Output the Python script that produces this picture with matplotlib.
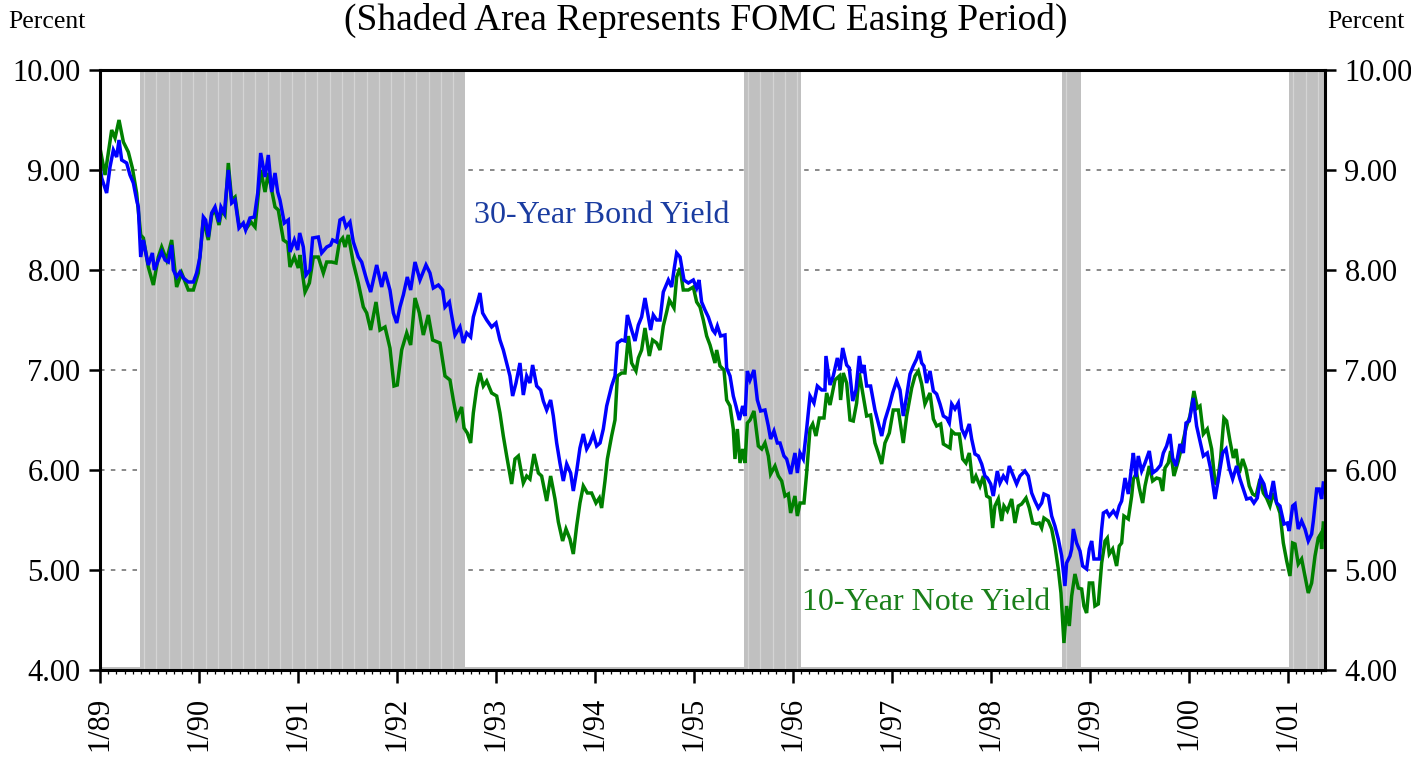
import matplotlib
matplotlib.use("Agg")
import matplotlib.pyplot as plt
import numpy as np
from matplotlib.ticker import FixedLocator

plt.rcParams["font.family"] = ["Liberation Serif", "DejaVu Serif"]

# weekly-ish readings: (decimal year, percent)
BOND30 = [
    (1989.000, 9.03), (1989.017, 8.92), (1989.067, 8.77), (1989.101, 9.03), (1989.135, 9.20),
    (1989.168, 9.13), (1989.192, 9.30), (1989.219, 9.10), (1989.269, 9.07), (1989.303, 8.95),
    (1989.337, 8.87), (1989.370, 8.70), (1989.387, 8.63), (1989.411, 8.13), (1989.438, 8.30),
    (1989.471, 8.13), (1989.488, 8.05), (1989.529, 8.17), (1989.549, 8.00), (1989.589, 8.10),
    (1989.623, 8.18), (1989.657, 8.10), (1989.690, 8.08), (1989.724, 8.25), (1989.741, 8.00),
    (1989.774, 7.93), (1989.808, 7.98), (1989.842, 7.92), (1989.892, 7.88), (1989.943, 7.88),
    (1989.976, 7.97), (1990.010, 8.13), (1990.044, 8.53), (1990.067, 8.50), (1990.094, 8.33),
    (1990.128, 8.57), (1990.162, 8.63), (1990.202, 8.48), (1990.222, 8.63), (1990.256, 8.57),
    (1990.296, 9.00), (1990.330, 8.67), (1990.364, 8.70), (1990.404, 8.42), (1990.448, 8.47),
    (1990.471, 8.40), (1990.515, 8.52), (1990.559, 8.53), (1990.593, 8.77), (1990.623, 9.17),
    (1990.667, 8.93), (1990.700, 9.15), (1990.734, 8.78), (1990.768, 8.97), (1990.795, 8.78),
    (1990.818, 8.70), (1990.862, 8.47), (1990.902, 8.50), (1990.919, 8.18), (1990.963, 8.30),
    (1990.997, 8.20), (1991.017, 8.37), (1991.054, 8.23), (1991.081, 7.95), (1991.121, 8.00),
    (1991.148, 8.32), (1991.205, 8.33), (1991.239, 8.17), (1991.290, 8.23), (1991.330, 8.25),
    (1991.350, 8.30), (1991.391, 8.28), (1991.424, 8.50), (1991.458, 8.52), (1991.485, 8.43),
    (1991.525, 8.48), (1991.559, 8.28), (1991.609, 8.13), (1991.643, 8.08), (1991.694, 7.90),
    (1991.734, 7.78), (1991.795, 8.05), (1991.845, 7.83), (1991.879, 7.98), (1991.929, 7.80),
    (1991.963, 7.57), (1991.997, 7.47), (1992.030, 7.63), (1992.064, 7.75), (1992.104, 7.93),
    (1992.138, 7.80), (1992.182, 8.08), (1992.232, 7.90), (1992.293, 8.05), (1992.333, 7.97),
    (1992.367, 7.82), (1992.418, 7.85), (1992.461, 7.80), (1992.485, 7.63), (1992.529, 7.68),
    (1992.586, 7.35), (1992.636, 7.43), (1992.670, 7.27), (1992.704, 7.37), (1992.744, 7.33),
    (1992.771, 7.53), (1992.811, 7.67), (1992.838, 7.77), (1992.865, 7.57), (1992.906, 7.50),
    (1992.956, 7.43), (1993.000, 7.47), (1993.040, 7.30), (1993.074, 7.20), (1993.108, 7.07),
    (1993.141, 6.94), (1993.168, 6.74), (1993.202, 6.87), (1993.242, 7.07), (1993.276, 6.75),
    (1993.310, 6.94), (1993.343, 6.87), (1993.370, 7.05), (1993.411, 6.84), (1993.451, 6.80),
    (1993.478, 6.69), (1993.512, 6.60), (1993.552, 6.70), (1993.579, 6.54), (1993.613, 6.27),
    (1993.646, 6.07), (1993.680, 5.89), (1993.714, 6.06), (1993.754, 5.97), (1993.781, 5.79),
    (1993.815, 5.99), (1993.848, 6.22), (1993.882, 6.36), (1993.916, 6.21), (1993.950, 6.27),
    (1993.983, 6.36), (1994.017, 6.24), (1994.051, 6.27), (1994.084, 6.41), (1994.118, 6.64),
    (1994.168, 6.84), (1994.202, 6.94), (1994.226, 7.27), (1994.269, 7.30), (1994.303, 7.29),
    (1994.327, 7.55), (1994.370, 7.40), (1994.404, 7.29), (1994.438, 7.45), (1994.471, 7.53),
    (1994.505, 7.72), (1994.539, 7.53), (1994.562, 7.40), (1994.589, 7.55), (1994.623, 7.50),
    (1994.657, 7.50), (1994.690, 7.78), (1994.741, 7.90), (1994.774, 7.83), (1994.798, 8.00),
    (1994.825, 8.17), (1994.859, 8.13), (1994.899, 7.90), (1994.943, 7.87), (1994.993, 7.90),
    (1995.027, 7.82), (1995.051, 7.90), (1995.077, 7.68), (1995.111, 7.60), (1995.145, 7.53),
    (1995.189, 7.40), (1995.212, 7.37), (1995.236, 7.44), (1995.269, 7.34), (1995.313, 7.35),
    (1995.330, 7.02), (1995.364, 6.94), (1995.397, 6.74), (1995.424, 6.64), (1995.458, 6.50),
    (1995.492, 6.64), (1995.515, 6.54), (1995.539, 6.99), (1995.566, 6.90), (1995.606, 7.00),
    (1995.640, 6.70), (1995.673, 6.59), (1995.717, 6.60), (1995.751, 6.44), (1995.774, 6.31),
    (1995.808, 6.39), (1995.842, 6.27), (1995.869, 6.27), (1995.909, 6.14), (1995.936, 6.11),
    (1995.976, 5.96), (1996.020, 6.17), (1996.044, 5.97), (1996.071, 6.17), (1996.104, 6.11),
    (1996.138, 6.41), (1996.172, 6.74), (1996.212, 6.67), (1996.246, 6.84), (1996.290, 6.80),
    (1996.323, 6.80), (1996.333, 7.14), (1996.374, 6.85), (1996.407, 6.94), (1996.448, 7.12),
    (1996.475, 7.00), (1996.502, 7.22), (1996.542, 7.05), (1996.569, 7.02), (1996.603, 6.69),
    (1996.636, 6.80), (1996.670, 7.14), (1996.694, 6.97), (1996.717, 7.05), (1996.744, 6.84),
    (1996.784, 6.84), (1996.828, 6.60), (1996.862, 6.47), (1996.896, 6.34), (1996.929, 6.50),
    (1996.973, 6.64), (1997.007, 6.77), (1997.047, 6.89), (1997.081, 6.80), (1997.114, 6.54),
    (1997.148, 6.74), (1997.182, 6.96), (1997.215, 7.04), (1997.249, 7.11), (1997.276, 7.19),
    (1997.300, 7.07), (1997.323, 7.04), (1997.350, 6.87), (1997.384, 6.99), (1997.418, 6.79),
    (1997.451, 6.76), (1997.485, 6.66), (1997.519, 6.54), (1997.552, 6.52), (1997.579, 6.47),
    (1997.603, 6.66), (1997.636, 6.61), (1997.670, 6.67), (1997.704, 6.41), (1997.737, 6.34),
    (1997.781, 6.46), (1997.805, 6.31), (1997.838, 6.16), (1997.872, 6.14), (1997.906, 6.06),
    (1997.939, 5.94), (1997.963, 5.92), (1997.997, 5.86), (1998.023, 5.74), (1998.064, 5.99),
    (1998.091, 5.87), (1998.125, 5.94), (1998.158, 5.89), (1998.185, 6.04), (1998.226, 5.94),
    (1998.259, 5.86), (1998.293, 5.94), (1998.343, 5.99), (1998.377, 5.94), (1998.411, 5.77),
    (1998.444, 5.69), (1998.478, 5.62), (1998.512, 5.67), (1998.535, 5.76), (1998.579, 5.74),
    (1998.613, 5.54), (1998.646, 5.44), (1998.680, 5.31), (1998.714, 5.14), (1998.747, 4.84),
    (1998.764, 5.07), (1998.798, 5.14), (1998.815, 5.21), (1998.832, 5.41), (1998.865, 5.27),
    (1998.899, 5.19), (1998.926, 5.04), (1998.966, 5.01), (1998.993, 5.21), (1999.017, 5.29),
    (1999.040, 5.11), (1999.094, 5.11), (1999.118, 5.41), (1999.135, 5.57), (1999.168, 5.59),
    (1999.195, 5.54), (1999.236, 5.59), (1999.269, 5.54), (1999.296, 5.64), (1999.320, 5.69),
    (1999.354, 5.92), (1999.387, 5.76), (1999.421, 6.04), (1999.438, 6.17), (1999.465, 5.93),
    (1999.488, 6.14), (1999.522, 5.99), (1999.556, 6.07), (1999.599, 6.19), (1999.633, 5.97),
    (1999.673, 6.00), (1999.714, 6.05), (1999.741, 6.17), (1999.774, 6.24), (1999.808, 6.36),
    (1999.835, 6.12), (1999.869, 6.04), (1999.909, 6.26), (1999.943, 6.17), (1999.970, 6.47),
    (2000.003, 6.49), (2000.044, 6.72), (2000.077, 6.44), (2000.111, 6.29), (2000.145, 6.14),
    (2000.185, 6.17), (2000.219, 6.01), (2000.263, 5.71), (2000.296, 5.91), (2000.340, 6.17),
    (2000.374, 6.21), (2000.407, 6.02), (2000.441, 5.91), (2000.481, 6.04), (2000.515, 5.91),
    (2000.549, 5.81), (2000.582, 5.71), (2000.623, 5.72), (2000.656, 5.67), (2000.690, 5.72),
    (2000.724, 5.92), (2000.757, 5.86), (2000.784, 5.74), (2000.818, 5.72), (2000.852, 5.89),
    (2000.885, 5.67), (2000.919, 5.64), (2000.960, 5.46), (2000.993, 5.47), (2001.013, 5.39),
    (2001.047, 5.64), (2001.071, 5.66), (2001.104, 5.41), (2001.138, 5.49), (2001.172, 5.41),
    (2001.205, 5.29), (2001.239, 5.36), (2001.256, 5.49), (2001.290, 5.81), (2001.316, 5.81),
    (2001.340, 5.71), (2001.357, 5.87),
]

NOTE10 = [
    (1989.000, 9.22), (1989.051, 8.95), (1989.084, 9.17), (1989.118, 9.40), (1989.152, 9.32),
    (1989.192, 9.50), (1989.236, 9.28), (1989.286, 9.18), (1989.327, 9.02), (1989.370, 8.77),
    (1989.411, 8.35), (1989.438, 8.32), (1989.488, 8.03), (1989.539, 7.85), (1989.589, 8.13),
    (1989.623, 8.23), (1989.673, 8.10), (1989.724, 8.30), (1989.774, 7.83), (1989.825, 7.97),
    (1989.892, 7.80), (1989.943, 7.80), (1989.993, 7.97), (1990.044, 8.50), (1990.094, 8.30),
    (1990.128, 8.55), (1990.162, 8.60), (1990.202, 8.45), (1990.229, 8.60), (1990.262, 8.55),
    (1990.296, 9.07), (1990.330, 8.70), (1990.364, 8.73), (1990.404, 8.45), (1990.448, 8.45),
    (1990.481, 8.42), (1990.525, 8.48), (1990.566, 8.43), (1990.623, 9.00), (1990.667, 8.78),
    (1990.700, 8.97), (1990.768, 8.63), (1990.801, 8.60), (1990.852, 8.30), (1990.896, 8.27),
    (1990.919, 8.03), (1990.963, 8.13), (1991.003, 8.02), (1991.020, 8.15), (1991.071, 7.78),
    (1991.115, 7.87), (1991.155, 8.13), (1991.205, 8.13), (1991.256, 7.97), (1991.290, 8.08),
    (1991.340, 8.08), (1991.384, 8.07), (1991.418, 8.28), (1991.451, 8.32), (1991.475, 8.23),
    (1991.508, 8.35), (1991.559, 8.07), (1991.609, 7.87), (1991.660, 7.63), (1991.694, 7.57),
    (1991.734, 7.40), (1991.788, 7.68), (1991.828, 7.40), (1991.879, 7.43), (1991.929, 7.22),
    (1991.970, 6.84), (1992.003, 6.85), (1992.047, 7.20), (1992.098, 7.37), (1992.138, 7.25),
    (1992.182, 7.72), (1992.226, 7.57), (1992.266, 7.35), (1992.316, 7.55), (1992.360, 7.30),
    (1992.434, 7.27), (1992.485, 6.94), (1992.535, 6.90), (1992.569, 6.70), (1992.603, 6.52),
    (1992.653, 6.63), (1992.677, 6.42), (1992.710, 6.37), (1992.744, 6.27), (1992.771, 6.57),
    (1992.805, 6.82), (1992.838, 6.97), (1992.872, 6.84), (1992.906, 6.89), (1992.956, 6.77),
    (1993.007, 6.74), (1993.040, 6.57), (1993.074, 6.34), (1993.108, 6.14), (1993.158, 5.86),
    (1993.192, 6.11), (1993.226, 6.14), (1993.276, 5.87), (1993.310, 5.94), (1993.343, 5.91),
    (1993.384, 6.16), (1993.428, 5.97), (1993.461, 5.94), (1993.512, 5.69), (1993.552, 5.94),
    (1993.596, 5.71), (1993.630, 5.48), (1993.673, 5.29), (1993.707, 5.41), (1993.747, 5.31),
    (1993.781, 5.16), (1993.815, 5.44), (1993.848, 5.67), (1993.882, 5.84), (1993.923, 5.77),
    (1993.966, 5.77), (1994.010, 5.67), (1994.044, 5.72), (1994.067, 5.62), (1994.101, 5.89),
    (1994.125, 6.11), (1994.168, 6.34), (1994.202, 6.50), (1994.226, 6.94), (1994.269, 6.97),
    (1994.303, 6.97), (1994.337, 7.34), (1994.370, 7.07), (1994.414, 6.99), (1994.438, 7.12),
    (1994.471, 7.20), (1994.505, 7.42), (1994.549, 7.14), (1994.582, 7.30), (1994.623, 7.27),
    (1994.657, 7.20), (1994.690, 7.44), (1994.724, 7.58), (1994.751, 7.70), (1994.798, 7.62),
    (1994.825, 7.93), (1994.859, 8.02), (1994.892, 7.80), (1994.943, 7.80), (1994.993, 7.83),
    (1995.027, 7.68), (1995.061, 7.63), (1995.094, 7.50), (1995.128, 7.34), (1995.162, 7.25),
    (1995.212, 7.07), (1995.229, 7.20), (1995.263, 7.04), (1995.303, 7.00), (1995.330, 6.70),
    (1995.364, 6.64), (1995.397, 6.41), (1995.414, 6.11), (1995.438, 6.41), (1995.465, 6.07),
    (1995.492, 6.21), (1995.515, 6.07), (1995.539, 6.47), (1995.566, 6.50), (1995.606, 6.59),
    (1995.650, 6.24), (1995.684, 6.21), (1995.717, 6.27), (1995.751, 6.14), (1995.774, 5.96),
    (1995.818, 6.04), (1995.852, 5.94), (1995.886, 5.89), (1995.919, 5.74), (1995.953, 5.76),
    (1995.976, 5.57), (1996.020, 5.74), (1996.044, 5.54), (1996.071, 5.67), (1996.111, 5.67),
    (1996.138, 5.97), (1996.172, 6.41), (1996.199, 6.46), (1996.232, 6.34), (1996.266, 6.52),
    (1996.313, 6.52), (1996.340, 6.77), (1996.374, 6.65), (1996.424, 6.90), (1996.468, 6.94),
    (1996.481, 6.70), (1996.508, 6.97), (1996.542, 6.87), (1996.576, 6.50), (1996.609, 6.49),
    (1996.643, 6.67), (1996.670, 6.97), (1996.710, 6.74), (1996.744, 6.54), (1996.784, 6.55),
    (1996.828, 6.27), (1996.862, 6.17), (1996.896, 6.06), (1996.929, 6.27), (1996.973, 6.37),
    (1997.013, 6.60), (1997.064, 6.60), (1997.114, 6.27), (1997.148, 6.54), (1997.199, 6.82),
    (1997.232, 6.94), (1997.266, 6.99), (1997.300, 6.86), (1997.333, 6.66), (1997.384, 6.77),
    (1997.418, 6.51), (1997.451, 6.44), (1997.492, 6.46), (1997.519, 6.26), (1997.552, 6.24),
    (1997.586, 6.22), (1997.603, 6.39), (1997.636, 6.36), (1997.680, 6.36), (1997.714, 6.11),
    (1997.747, 6.07), (1997.781, 6.17), (1997.815, 5.87), (1997.848, 5.94), (1997.889, 5.84),
    (1997.923, 5.94), (1997.956, 5.74), (1997.990, 5.72), (1998.017, 5.42), (1998.040, 5.64),
    (1998.074, 5.71), (1998.108, 5.49), (1998.131, 5.64), (1998.165, 5.59), (1998.209, 5.71),
    (1998.242, 5.47), (1998.276, 5.64), (1998.310, 5.66), (1998.354, 5.72), (1998.387, 5.62),
    (1998.421, 5.47), (1998.461, 5.46), (1998.488, 5.47), (1998.512, 5.42), (1998.535, 5.52),
    (1998.579, 5.49), (1998.613, 5.41), (1998.646, 5.24), (1998.680, 5.01), (1998.707, 4.77),
    (1998.737, 4.27), (1998.764, 4.64), (1998.791, 4.44), (1998.815, 4.74), (1998.848, 4.96),
    (1998.882, 4.82), (1998.916, 4.81), (1998.939, 4.64), (1998.966, 4.57), (1998.993, 4.87),
    (1999.027, 4.87), (1999.050, 4.64), (1999.084, 4.66), (1999.118, 5.07), (1999.152, 5.29),
    (1999.175, 5.32), (1999.195, 5.16), (1999.229, 5.21), (1999.269, 5.04), (1999.296, 5.24),
    (1999.320, 5.27), (1999.343, 5.54), (1999.387, 5.51), (1999.421, 5.74), (1999.438, 5.91),
    (1999.471, 5.97), (1999.498, 5.82), (1999.532, 5.67), (1999.556, 5.84), (1999.599, 6.04),
    (1999.633, 5.89), (1999.673, 5.92), (1999.707, 5.91), (1999.734, 5.79), (1999.758, 6.02),
    (1999.791, 6.07), (1999.815, 6.19), (1999.848, 5.94), (1999.892, 6.09), (1999.936, 6.27),
    (1999.970, 6.42), (2000.010, 6.54), (2000.050, 6.79), (2000.084, 6.62), (2000.111, 6.64),
    (2000.145, 6.36), (2000.185, 6.41), (2000.229, 6.21), (2000.263, 5.87), (2000.286, 5.86),
    (2000.320, 6.12), (2000.353, 6.52), (2000.380, 6.49), (2000.414, 6.29), (2000.448, 6.12),
    (2000.475, 6.21), (2000.508, 5.97), (2000.542, 6.11), (2000.576, 6.01), (2000.609, 5.84),
    (2000.643, 5.76), (2000.677, 5.74), (2000.717, 5.91), (2000.751, 5.77), (2000.784, 5.72),
    (2000.818, 5.64), (2000.852, 5.77), (2000.885, 5.67), (2000.919, 5.57), (2000.953, 5.27),
    (2000.987, 5.09), (2001.020, 4.94), (2001.047, 5.27), (2001.071, 5.26), (2001.104, 5.06),
    (2001.138, 5.11), (2001.172, 4.94), (2001.205, 4.77), (2001.239, 4.87), (2001.273, 5.14),
    (2001.306, 5.32), (2001.330, 5.36), (2001.340, 5.21), (2001.357, 5.47),
]

# FOMC easing periods (start, end) in decimal years
EASING = [(1989.404, 1992.687), (1995.505, 1996.081), (1998.720, 1998.909), (2001.013, 2001.374)]

YEARS = list(range(1989, 2002))
YEAR_LABELS = [f"1/{y % 100:02d}" for y in YEARS]
Y_TICKS = [4, 5, 6, 7, 8, 9, 10]
X_START, X_END = 1989.0, 2001.374

fig = plt.figure(figsize=(14.11, 7.58), dpi=100)
ax = fig.add_axes([100 / 1411, 1 - 670 / 758, 1225 / 1411, 600 / 758])

# dashed grid under the shading
for v in [5, 6, 7, 8, 9]:
    ax.axhline(v, color="0.5", lw=1.3, ls=(0, (2.5, 3.5)), zorder=0.5)

ax.axhspan(4.0, 4.035, color="#c0c0c0", lw=0, zorder=1)
for a, b in EASING:
    ax.axvspan(a, b, color="#c0c0c0", lw=0, zorder=1)
    # faint seams inside the shaded blocks (roughly one per FOMC meeting)
    m = a + 0.04
    while m < b - 0.03:
        ax.axvline(m, color="#d4d4d4", lw=0.9, zorder=1.1)
        m += 1 / 8

nt, ny = zip(*NOTE10)
bt, by = zip(*BOND30)
ax.plot(nt, ny, color="#008000", lw=2.5, zorder=3, solid_joinstyle="miter")
ax.plot(bt, by, color="#0000ff", lw=2.5, zorder=4, solid_joinstyle="miter")

ax.set_xlim(X_START, X_END)
ax.set_ylim(4, 10)
ax.set_yticks(Y_TICKS)
ax.set_yticklabels([f"{v:.2f}" for v in Y_TICKS])
ax.set_xticks(YEARS)
ax.set_xticklabels(YEAR_LABELS, rotation=90)
ax.xaxis.set_minor_locator(FixedLocator(np.arange(X_START, X_END, 1 / 12)))

ax.tick_params(axis="y", which="major", direction="out", length=8, width=1.8,
               labelsize=22, pad=6, left=True, right=True, labelleft=True, labelright=True)
ax.tick_params(axis="x", which="major", direction="out", length=9, width=1.8,
               labelsize=22, pad=10)
ax.tick_params(axis="x", which="minor", direction="out", length=3, width=0.9)
for s in ax.spines.values():
    s.set_linewidth(2.2)
    s.set_zorder(5)

ax.text(0.305, 0.757, "30-Year Bond Yield", transform=ax.transAxes, color="#1a3ca0",
        fontsize=23, ha="left", va="center", zorder=6)
ax.text(0.573, 0.113, "10-Year Note Yield", transform=ax.transAxes, color="#1a7f1a",
        fontsize=23, ha="left", va="center", zorder=6)

fig.text(0.5, 1 - 20 / 758, "(Shaded Area Represents FOMC Easing Period)",
         fontsize=27, ha="center", va="center")
fig.text(8 / 1411, 1 - 22 / 758, "Percent", fontsize=18.5, ha="left", va="center")
fig.text(1405 / 1411, 1 - 22 / 758, "Percent", fontsize=18.5, ha="right", va="center")

fig.savefig("out.png", dpi=100)
